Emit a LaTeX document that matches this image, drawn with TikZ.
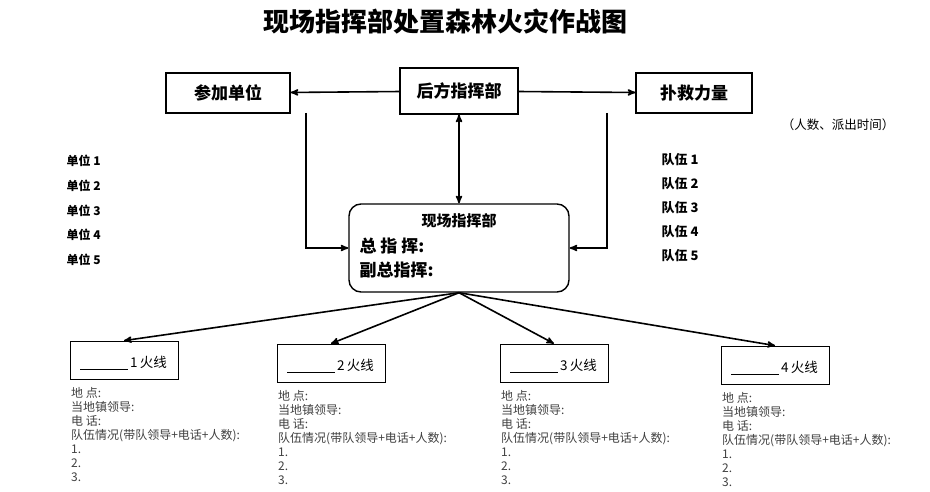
\documentclass[tikz,border=0pt]{standalone}
\usepackage{fontspec}
\setmainfont{Noto Sans CJK SC}
\newfontfamily\cjk{Noto Sans CJK SC}
\usetikzlibrary{arrows, positioning}
\begin{document}
\begin{tikzpicture}[x=1pt, y=-1pt, >=stealth',
    link/.style={line width=1.6pt},
    box/.style={draw, line width=1.2pt, minimum width=118pt, minimum height=40pt, font=\cjk\bfseries\fontsize{17}{19}\selectfont},
    fire/.style={draw, line width=0.8pt, minimum width=108pt, minimum height=38pt},
    item/.style={anchor=west, font=\cjk\bfseries\fontsize{12}{14}\selectfont},
    info/.style={anchor=north west, align=left, text=black!75, font=\cjk\fontsize{12}{14}\selectfont}]
    \useasboundingbox (0,0) rectangle (930,492);

    % Title
    \node[font=\cjk\bfseries\fontsize{26}{30}\selectfont] (title) at (445,22) {现场指挥部处置森林火灾作战图};

    % Top row
    \node[box, minimum width=124pt] (units) at (228,93) {参加单位};
    \node[box, minimum height=46pt] (rear) at (459,91) {后方指挥部};
    \node[box, minimum width=116pt] (force) at (694,93) {扑救力量};
    \node[font=\cjk\fontsize{12.5}{14}\selectfont] (note) at (838,125) {（人数、派出时间）};

    % Site command
    \node[draw, line width=1.4pt, rounded corners=12pt, minimum width=220pt, minimum height=88pt] (site) at (459,248) {};
    \node[font=\cjk\bfseries\fontsize{15}{17}\selectfont] (sitetitle) at (459,221) {现场指挥部};
    \node[item, font=\cjk\bfseries\fontsize{17}{19}\selectfont] (chief) at (356,246) {总 指 挥:};
    \node[item, font=\cjk\bfseries\fontsize{17}{19}\selectfont] (vice) at (356,270) {副总指挥:};

    \draw[link, ->] (rear) -- (units);
    \draw[link, ->] (rear) -- (force);
    \draw[link, <->] (rear) -- (site);
    \coordinate (lt) at (306,113);
    \coordinate (rt) at (607,113);
    \draw[link, ->] (lt) |- (site.west);
    \draw[link, ->] (rt) |- (site.east);

    % Lists
    \foreach \i/\y in {1/161,2/186,3/211,4/235,5/260}
        \node[item] (unit\i) at (63,\y) {单位 \i};
    \foreach \i/\y in {1/160,2/184,3/208,4/232,5/256}
        \node[item, font=\cjk\bfseries\fontsize{13}{15}\selectfont] (team\i) at (658,\y) {队伍 \i};

    % Fire lines
    \foreach \i/\x/\y in {1/124/360,2/331/363,3/554/363,4/775/365}{
        \node[fire] (line\i) at (\x,\y) {};
        \draw (\x-44,\y+9) -- (\x+4,\y+9);
        \node[anchor=base west, font=\cjk\fontsize{13.5}{15}\selectfont, inner sep=0pt] (label\i) at (\x+6,\y+7) {\i\,火线};
        \draw[link, ->] (site.south) -- (line\i.north);
        \node[info, inner sep=0pt] (info\i) at (\x-53,\y+27) {地\ 点:\\当地镇领导:\\电\ 话:\\队伍情况(带队领导+电话+人数):\\1.\\2.\\3.};
    }
\end{tikzpicture}
\end{document}
